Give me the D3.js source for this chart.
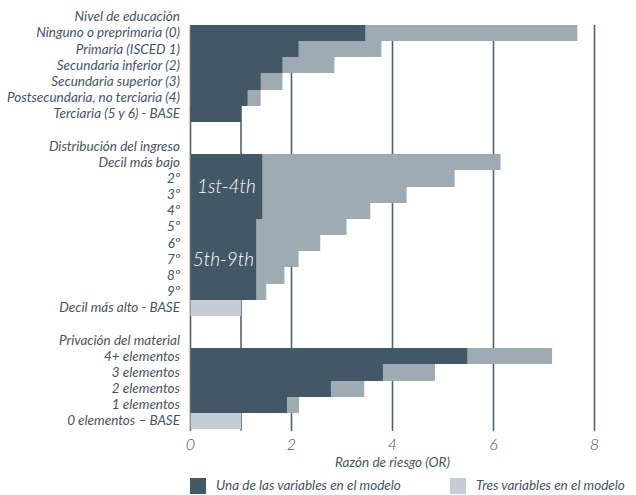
<!DOCTYPE html>
<html><head><meta charset="utf-8">
<script src="https://cdn.jsdelivr.net/npm/d3@7"></script>
<style>
body{margin:0;background:#fff;}
text{font-family:Lato,"Open Sans",sans-serif;font-style:italic;font-weight:400;fill:#435463;}
</style></head><body>
<svg id="c" width="636" height="495"></svg>
<script>
// ---- data ----
const eduHeader = "Nivel de educación";
const eduLabels = ["Ninguno o preprimaria (0)","Primaria (ISCED 1)","Secundaria inferior (2)","Secundaria superior (3)","Postsecundaria, no terciaria (4)","Terciaria (5 y 6) - BASE"];
const eduOne = [3.46, 2.14, 1.82, 1.39, 1.13, 1.0];
const eduThree = [7.66, 3.78, 2.85, 1.82, 1.39, null];

const incHeader = "Distribución del ingreso";
const incLabels = ["Decil más bajo","2º","3º","4º","5º","6º","7º","8º","9º","Decil más alto - BASE"];
const incThree = [6.14, 5.23, 4.28, 3.56, 3.09, 2.57, 2.14, 1.86, 1.50, null];
const incBase = [null,null,null,null,null,null,null,null,null,1.0];
const incGroupLabels = ["1st-4th","5th-9th"];
const incGroupFrom = [0, 4];
const incGroupTo = [3, 8];
const incGroupOne = [1.42, 1.30];

const matHeader = "Privación del material";
const matLabels = ["4+ elementos","3 elementos","2 elementos","1 elementos","0 elementos – BASE"];
const matOne = [5.48, 3.81, 2.78, 1.91, null];
const matThree = [7.16, 4.84, 3.44, 2.15, null];
const matBase = [null, null, null, null, 1.0];

const gridValues = [0, 1, 2, 4, 6, 8];
const tickValues = [0, 2, 4, 6, 8];
const axisTitle = "Razón de riesgo (OR)";
const legendLabels = ["Una de las variables en el modelo","Tres variables en el modelo"];

// ---- styles ----
const cDark = "#435866", cMid = "#9eabb3", cLight = "#c5ccd3", cGrid = "#4f6170";

// ---- slots ----
const slots = [];
slots.push({id:"h0", label:eduHeader});
eduLabels.forEach((l,i)=>slots.push({id:"e"+i,label:l,one:eduOne[i],three:eduThree[i]}));
slots.push({id:"b0", label:""});
slots.push({id:"h1", label:incHeader});
incLabels.forEach((l,i)=>slots.push({id:"i"+i,label:l,three:incThree[i],base:incBase[i]}));
slots.push({id:"b1", label:""});
slots.push({id:"h2", label:matHeader});
matLabels.forEach((l,i)=>slots.push({id:"m"+i,label:l,one:matOne[i],three:matThree[i],base:matBase[i]}));

const svg = d3.select("#c");
const x = d3.scaleLinear().domain([0,8]).range([190.5, 594.5]);
const y = d3.scaleBand().domain(slots.map(s=>s.id)).range([8.7, 429]).padding(0);
const bw = y.bandwidth();
const yT = id => Math.round(y(id));
const yH = id => Math.round(y(id)+bw) - Math.round(y(id));

// gridlines
svg.append("g").selectAll("line").data(gridValues).join("line")
  .attr("x1",d=>x(d)).attr("x2",d=>x(d))
  .attr("y1", yT("e0")).attr("y2", 430.5)
  .attr("stroke", cGrid).attr("stroke-width",1.6);

const rows = slots.filter(s=>!s.id.startsWith("h") && !s.id.startsWith("b"));
function bars(data, key, color){
  svg.append("g").selectAll("rect").data(data.filter(s=>s[key]!=null)).join("rect")
    .attr("x", x(0)).attr("y", d=>yT(d.id)).attr("height", d=>yH(d.id))
    .attr("width", d=>x(d[key])-x(0)).attr("fill", color);
}
bars(rows, "three", cMid);
bars(rows, "base", cLight);
bars(rows, "one", cDark);

// income group blocks
const groups = incGroupLabels.map((l,i)=>({label:l, y0:yT("i"+incGroupFrom[i]), y1:yT("i"+incGroupTo[i])+yH("i"+incGroupTo[i]), v:incGroupOne[i]}));
const gg = svg.append("g");
gg.selectAll("rect").data(groups).join("rect")
  .attr("x", x(0)).attr("y", d=>d.y0).attr("height", d=>d.y1-d.y0)
  .attr("width", d=>x(d.v)-x(0)).attr("fill", cDark);
gg.selectAll("text").data(groups).join("text")
  .attr("x", d=>(x(0)+x(d.v))/2).attr("y", d=>(d.y0+d.y1)/2+6)
  .attr("text-anchor","middle").style("fill","#ffffff").style("font-size","19px").style("font-weight",300)
  .text(d=>d.label);

// category labels
svg.append("g").selectAll("text").data(slots.filter(s=>s.label)).join("text")
  .attr("x", 180).attr("y", d=>y(d.id)+bw/2+4.5)
  .attr("text-anchor","end").style("font-size","13.5px")
  .text(d=>d.label);

// x axis ticks & labels
svg.append("g").selectAll("line").data(tickValues).join("line")
  .attr("x1",d=>x(d)).attr("x2",d=>x(d)).attr("y1",429).attr("y2",431)
  .attr("stroke",cGrid);
svg.append("g").selectAll("text").data(tickValues).join("text")
  .attr("x",d=>x(d)).attr("y",450).attr("text-anchor","middle")
  .style("font-size","16px").style("font-weight",300).text(d=>d);
svg.append("text").attr("x", x(4)).attr("y", 467).attr("text-anchor","middle")
  .style("font-size","13.5px").text(axisTitle);

// legend
const leg = svg.append("g");
const legX = [190, 450], legC = [cDark, cLight];
legendLabels.forEach((l,i)=>{
  leg.append("rect").attr("x",legX[i]).attr("y",478).attr("width",16).attr("height",16).attr("fill",legC[i]);
  leg.append("text").attr("x",legX[i]+26).attr("y",490).style("font-size","13.5px").text(l);
});
</script>
</body></html>
